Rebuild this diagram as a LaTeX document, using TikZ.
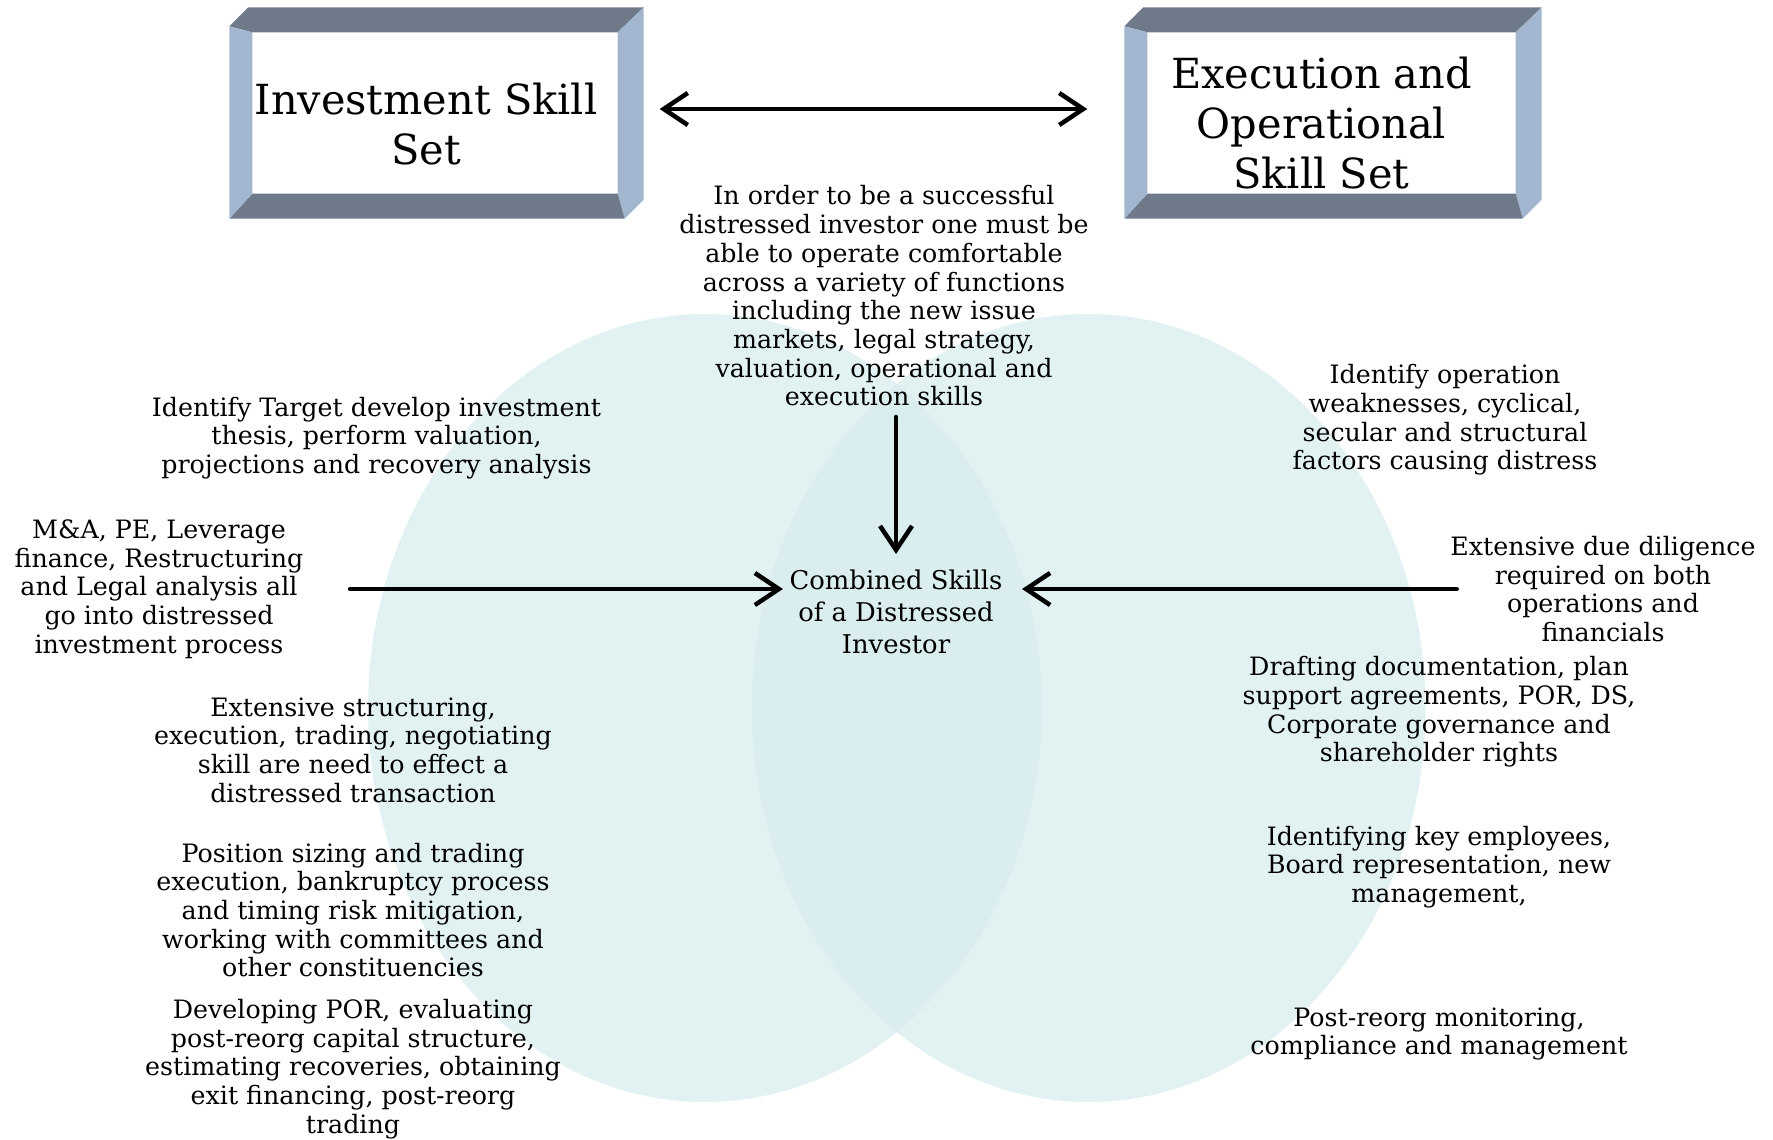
\documentclass[tikz,border=0pt]{standalone}
\usepackage{fontspec}
\setmainfont{DejaVu Serif}
\usetikzlibrary{positioning,arrows.meta}
\definecolor{cVenn}{RGB}{215,237,238}
\definecolor{cBevelTop}{HTML}{6E7A8A}
\definecolor{cBevelSide}{HTML}{A3B6CF}
\tikzset{
  node-frame/.style={minimum width=3.64cm,minimum height=1.60cm,inner sep=0pt},
  node-title/.style={align=center,inner sep=0pt,font=\fontsize{11.8}{14.3}\selectfont},
  node-text/.style={align=center,inner sep=0pt,font=\fontsize{7.2}{8.17}\selectfont},
  node-core/.style={align=center,inner sep=0pt,font=\fontsize{7.35}{9.2}\selectfont},
  venn/.style={fill=cVenn,fill opacity=0.72},
  arrow/.style={-{Straight Barb[length=2.4mm,width=3.2mm]},line width=0.45mm,line cap=round},
  arrow-both/.style={{Straight Barb[length=2.4mm,width=3.2mm]}-{Straight Barb[length=2.4mm,width=3.2mm]},
    line width=0.45mm,line cap=round},
}
% bevelled frame drawn round a box node
\newcommand{\bevelframe}[1]{%
  \fill[cBevelTop]  ([shift={(-0.23,0.06)}]#1.north west) -- ([shift={(-0.04,0.25)}]#1.north west)
    -- ([shift={(0.26,0.25)}]#1.north east) -- (#1.north east) -- (#1.north west) -- cycle;
  \fill[cBevelSide] ([shift={(0.26,0.25)}]#1.north east) -- ([shift={(0.26,-0.06)}]#1.south east)
    -- ([shift={(0.07,-0.25)}]#1.south east) -- (#1.south east) -- (#1.north east) -- cycle;
  \fill[cBevelTop]  ([shift={(-0.23,-0.25)}]#1.south west) -- ([shift={(0.07,-0.25)}]#1.south east)
    -- (#1.south east) -- (#1.south west) -- cycle;
  \fill[cBevelSide] ([shift={(-0.23,0.06)}]#1.north west) -- (#1.north west) -- (#1.south west)
    -- ([shift={(-0.23,-0.25)}]#1.south west) -- cycle;
}

\begin{document}
\begin{tikzpicture}
  \useasboundingbox (0,0) rectangle (17.73,11.39);
  \fill[venn] (7.05,4.31) ellipse [x radius=3.37,y radius=3.94];
  \fill[venn] (10.885,4.31) ellipse [x radius=3.37,y radius=3.94];

  \node[node-frame] (inv) at (4.35,10.26) {};
  \node[node-frame,minimum width=3.67cm] (exe) at (13.315,10.26) {};
  \bevelframe{inv}
  \bevelframe{exe}
  \node[node-title] (inv-text) at ([xshift=-0.9mm,yshift=-1.1mm]inv.center) {Investment Skill\\Set};
  \node[node-title] (exe-text) at ([xshift=-1mm,yshift=-1mm]exe.center) {Execution and\\Operational\\Skill Set};

  \node[node-text] (intro) at (8.84,8.43) {In order to be a successful\\distressed investor one must be\\able to operate comfortable\\across a variety of functions\\including the new issue\\markets, legal strategy,\\valuation, operational and\\execution skills};
  \node[node-core] (core) at (8.96,5.27) {Combined Skills\\of a Distressed\\Investor};

  \node[node-text] (target) at (3.765,7.01) {Identify Target develop investment\\thesis, perform valuation,\\projections and recovery analysis};
  \node[node-text] (ma)     at (1.59,5.50)  {M\&A, PE, Leverage\\finance, Restructuring\\and Legal analysis all\\go into distressed\\investment process};
  \node[node-text] (struct) at (3.53,3.89)  {Extensive structuring,\\execution, trading, negotiating\\skill are need to effect a\\distressed transaction};
  \node[node-text] (pos)    at (3.53,2.29)  {Position sizing and trading\\execution, bankruptcy process\\and timing risk mitigation,\\working with committees and\\other constituencies};
  \node[node-text] (por)    at (3.53,0.70)  {Developing POR, evaluating\\post-reorg capital structure,\\estimating recoveries, obtaining\\exit financing, post-reorg\\trading};

  \node[node-text] (weak)   at (14.45,7.19) {Identify operation\\weaknesses, cyclical,\\secular and structural\\factors causing distress};
  \node[node-text] (dd)     at (16.03,5.50) {Extensive due diligence\\required on both\\operations and\\financials};
  \node[node-text] (draft)  at (14.39,4.27) {Drafting documentation, plan\\support agreements, POR, DS,\\Corporate governance and\\shareholder rights};
  \node[node-text] (empl)   at (14.39,2.72) {Identifying key employees,\\Board representation, new\\management,};
  \node[node-text] (post)   at (14.39,1.05) {Post-reorg monitoring,\\compliance and management};

  \draw[arrow-both] ([xshift=4.2mm,yshift=0.4mm]inv.east) -- ([xshift=-6mm,yshift=0.4mm]exe.west);
  \draw[arrow] ([yshift=-1mm]intro.south -| core.north) -- ([yshift=1.5mm]core.north);
  \draw[arrow] ([xshift=4.6mm]ma.east) -- ([xshift=-0.6mm]ma.east -| core.west);
  \draw[arrow] ([xshift=0.7mm]dd.west) -- ([xshift=1.9mm]dd.west -| core.east);
\end{tikzpicture}
\end{document}
